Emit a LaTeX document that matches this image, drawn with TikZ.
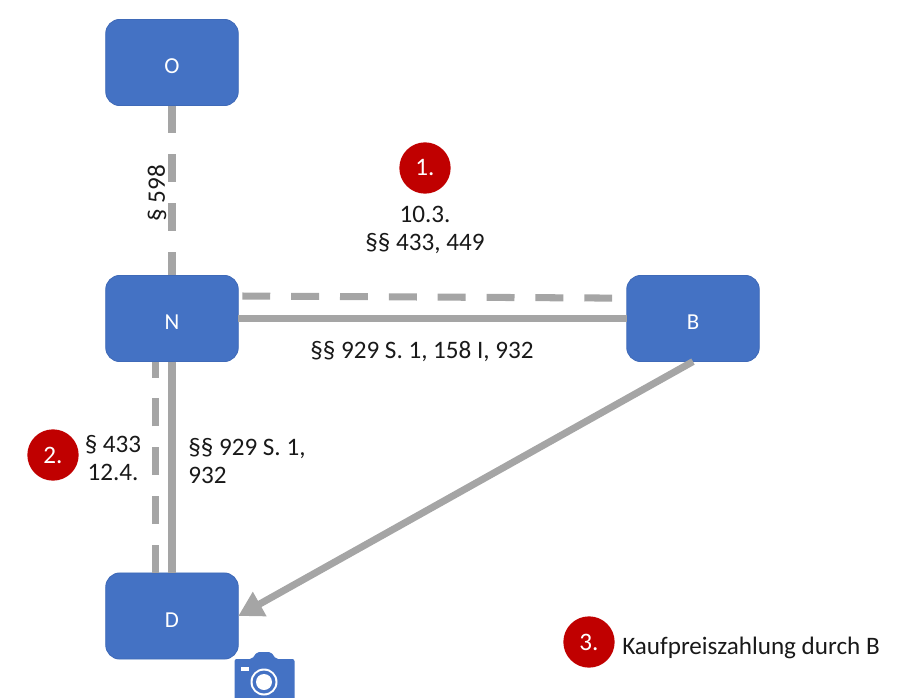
\documentclass[tikz,border=0pt]{standalone}
\usepackage{fontspec}
\setmainfont{Carlito}
\usetikzlibrary{arrows.meta}
\definecolor{boxblue}{HTML}{4472C4}
\definecolor{boxedge}{HTML}{3F6AB8}
\definecolor{edgegray}{HTML}{A5A5A5}
\definecolor{markred}{HTML}{C00000}

\begin{document}
\begin{tikzpicture}
  [x=.2mm,y=-.2mm,auto=left]
      \tikzstyle{box_style} = [fill=boxblue, draw=boxedge, line width=.5pt, rounded corners=8pt, minimum width=75.4pt, minimum height=49pt, outer sep=0pt, text=white, text height=12.6pt, font=\fontsize{13}{15}\selectfont]
      \tikzstyle{edge_style} = [draw=edgegray, line width=4pt]
      \tikzstyle{dash_style} = [edge_style, dash pattern=on 15.9pt off 11.9pt]
      \tikzstyle{mark_style} = [circle, fill=markred, text=white, minimum size=29.2pt, inner sep=0pt, font=\fontsize{14.3}{17}\selectfont]
      \tikzstyle{label_style} = [align=center, inner sep=0pt, text=black!90, font=\fontsize{14.3}{16.4}\selectfont]
  \clip (0,0) rectangle (900,698);
  \useasboundingbox (0,0) rectangle (900,698);
  \node[box_style] (O) at (172,62.5) {O};
  \node[box_style] (N) at (172,318.5) {N};
  \node[box_style] (B) at (693,318.5) {B};
  \node[box_style] (D) at (172,616) {D};
  \draw[dash_style] (O) -- (N);
  \draw[dash_style] ([xshift=2.3pt,yshift=12.8pt]N.east) -- ([xshift=-5pt,yshift=11.6pt]B.west);
  \draw[edge_style] (N) -- (B);
  \draw[dash_style] ([xshift=-9.6pt]D.north) -- ([xshift=-9.6pt]N.south);
  \draw[edge_style] (N) -- (D);
  \draw[edge_style, -{Triangle[length=14pt,width=15pt]}] (B.south) -- (D.east);
  \node[mark_style] (m1) at (425,168) {1.};
  \node[mark_style] (m2) at (53,455) {2.};
  \node[mark_style] (m3) at (589,642) {3.};
  \node[label_style, rotate=90] (l598) at (157,193) {§ 598};
  \node[label_style] (l433) at (425,230) {10.3.\\§§ 433, 449};
  \node[label_style] (l929) at (422,352) {§§ 929 S. 1, 158 I, 932};
  \node[label_style] (l124) at (113,458) {§ 433\\12.4.};
  \node[label_style, align=left, anchor=west] (l932) at (188,461) {§§ 929 S. 1,\\932};
  \node[label_style] (l3) at (751,648) {Kaufpreiszahlung durch B};
  \fill[boxblue, rounded corners=1.2pt] (234.5,659) -- (252,659) -- (257,652) -- (271,652) -- (276,659) -- (294.5,659) -- (294.5,705) -- (234.5,705) -- cycle;
  \fill[white] (241,667) rectangle (249,671);
  \fill[white] (264,682) circle[radius=13.5];
  \fill[boxblue] (264,682) circle[radius=11.5];
  \fill[white] (264,682) circle[radius=8];
\end{tikzpicture}
\end{document}
